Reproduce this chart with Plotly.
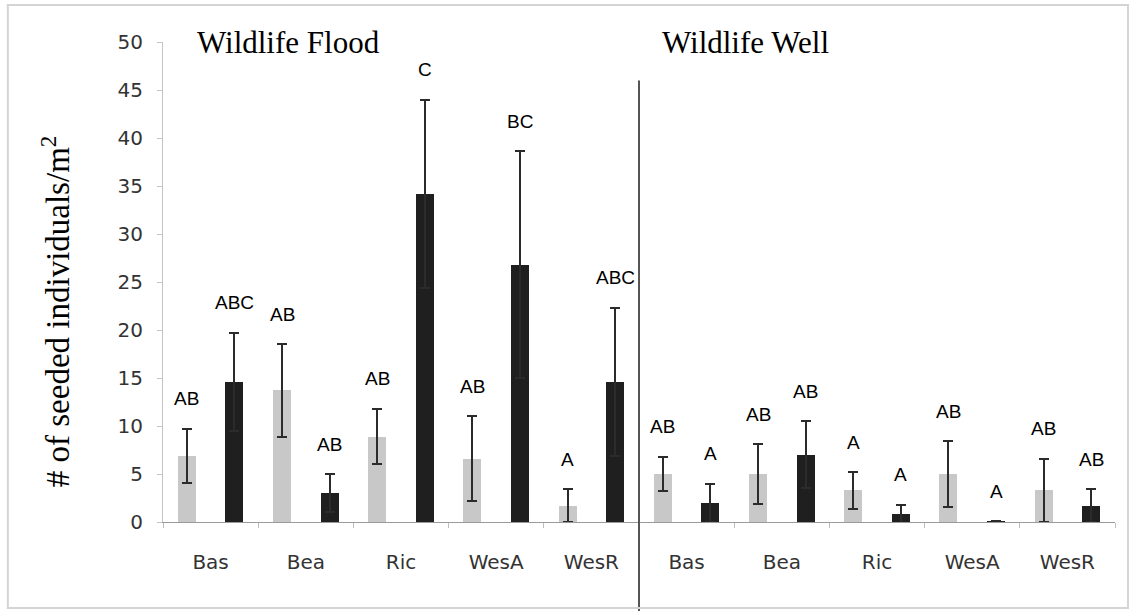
import plotly.graph_objects as go

# Seeded-species density per site, two sites, two treatments per species
species = ["Bas", "Bea", "Ric", "WesA", "WesR"]
sites = ["Wildlife Flood", "Wildlife Well"]

flood_light = [6.9, 13.7, 8.9, 6.6, 1.7]
flood_light_se = [2.8, 4.8, 2.9, 4.4, 1.7]
flood_dark = [14.6, 3.0, 34.2, 26.8, 14.6]
flood_dark_se = [5.1, 2.0, 9.8, 11.8, 7.7]

well_light = [5.0, 5.0, 3.3, 5.0, 3.3]
well_light_se = [1.8, 3.1, 1.9, 3.4, 3.3]
well_dark = [2.0, 7.0, 0.8, 0.1, 1.7]
well_dark_se = [2.0, 3.5, 1.0, 0.0, 1.7]

flood_light_grp = ["AB", "AB", "AB", "AB", "A"]
flood_dark_grp = ["ABC", "AB", "C", "BC", "ABC"]
well_light_grp = ["AB", "AB", "A", "AB", "AB"]
well_dark_grp = ["A", "AB", "A", "A", "AB"]

y_ticks = [0, 5, 10, 15, 20, 25, 30, 35, 40, 45, 50]

LIGHT = "#c8c8c8"
DARK = "#1f1f1f"
ERR = "#2b2b2b"
TICK_FONT = dict(family="DejaVu Sans", size=20, color="#333333")
SERIF = "Liberation Serif, Times New Roman, serif"

n = len(species)
light_x = [2 * i for i in range(2 * n)]
dark_x = [2 * i + 1 for i in range(2 * n)]
light_y = flood_light + well_light
light_e = flood_light_se + well_light_se
dark_y = flood_dark + well_dark
dark_e = flood_dark_se + well_dark_se
light_g = flood_light_grp + well_light_grp
dark_g = flood_dark_grp + well_dark_grp

fig = go.Figure()
fig.add_trace(go.Bar(
    x=light_x, y=light_y, width=0.38, marker=dict(color=LIGHT, line=dict(width=0)),
    error_y=dict(type="data", array=light_e, visible=True, color=ERR, thickness=2, width=5),
    showlegend=False,
))
fig.add_trace(go.Bar(
    x=dark_x, y=dark_y, width=0.38, marker=dict(color=DARK, line=dict(width=0)),
    error_y=dict(type="data", array=dark_e, visible=True, color=ERR, thickness=2, width=5),
    showlegend=False,
))

# significance letters above each error bar
for xs, ys, es, gs in [(light_x, light_y, light_e, light_g), (dark_x, dark_y, dark_e, dark_g)]:
    for x, y, e, g in zip(xs, ys, es, gs):
        fig.add_annotation(
            x=x, y=y + e, xref="x", yref="y", text=g, showarrow=False,
            yanchor="middle", yshift=30,
            font=dict(family="Liberation Sans", size=19, color="black"),
        )

# site headings
for i, s in enumerate(sites):
    fig.add_annotation(
        x=0.034 + 0.488 * i, y=50, xref="paper", yref="y", text=s, showarrow=False,
        xanchor="left", yanchor="middle",
        font=dict(family=SERIF, size=31, color="black"),
    )

# y-axis title
fig.add_annotation(
    x=-0.113, y=0.44, xref="paper", yref="paper", textangle=-90, showarrow=False,
    xanchor="center", yanchor="middle",
    text="# of seeded individuals/m<sup>2</sup>",
    font=dict(family=SERIF, size=33, color="black"),
)

# divider between the two sites
fig.add_shape(type="line", xref="x domain", yref="paper", x0=0.5, x1=0.5,
              y0=-0.19, y1=0.92, line=dict(color="#555555", width=2))

# outer frame
fig.add_shape(type="rect", xref="paper", yref="paper", x0=-0.163, x1=1.0137,
              y0=-0.179, y1=1.077, line=dict(color="#d4d4d4", width=2))

fig.update_layout(
    width=1133, height=611,
    margin=dict(l=163, r=18, t=42, b=89),
    paper_bgcolor="white", plot_bgcolor="white",
    bargap=0, barmode="overlay",
    xaxis=dict(
        range=[-0.5, len(light_x) + len(dark_x) - 0.5],
        tickvals=[2 * i + 0.5 for i in range(2 * n)],
        ticktext=species + species,
        ticks="", showgrid=False, zeroline=False,
        showline=True, linecolor="#9a9a9a", linewidth=1,
        tickfont=TICK_FONT, ticklabelstandoff=22,
        minor=dict(tick0=-0.5, dtick=2, ticks="outside", ticklen=5,
                   tickcolor="#bdbdbd", showgrid=False),
    ),
    yaxis=dict(
        range=[0, 50], tickvals=y_ticks, showgrid=False, zeroline=False,
        showline=True, linecolor="#c4c4c4", linewidth=1,
        ticks="outside", ticklen=5, tickcolor="#c4c4c4",
        tickfont=TICK_FONT, ticklabelstandoff=10,
    ),
)

fig.write_html("out.html")
